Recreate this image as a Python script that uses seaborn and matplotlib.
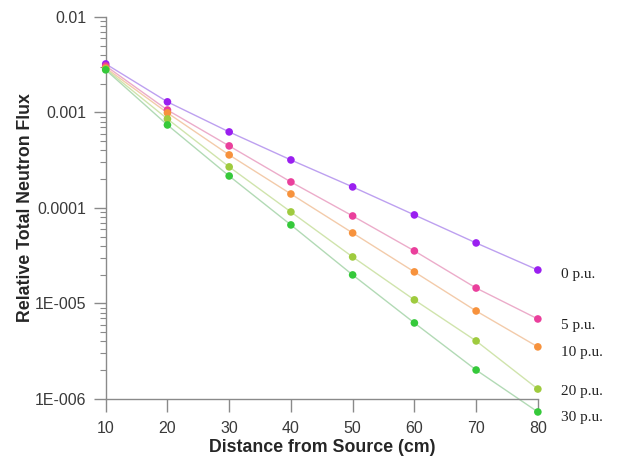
import numpy as np
import pandas as pd
import matplotlib
matplotlib.use('Agg')
import matplotlib.pyplot as plt
import seaborn as sns
from matplotlib.ticker import LogLocator, FixedLocator, FuncFormatter, NullFormatter

# distances (cm) and relative flux for each porosity
distance = [10, 20, 30, 40, 50, 60, 70, 80]
flux_0pu = [3.22e-3, 1.29e-3, 6.25e-4, 3.18e-4, 1.66e-4, 8.45e-5, 4.30e-5, 2.24e-5]
flux_5pu = [3.07e-3, 1.06e-3, 4.46e-4, 1.87e-4, 8.24e-5, 3.55e-5, 1.45e-5, 6.88e-6]
flux_10pu = [2.92e-3, 9.89e-4, 3.59e-4, 1.40e-4, 5.47e-5, 2.14e-5, 8.34e-6, 3.51e-6]
flux_20pu = [2.85e-3, 8.55e-4, 2.69e-4, 9.08e-5, 3.07e-5, 1.09e-5, 4.05e-6, 1.27e-6]
flux_30pu = [2.79e-3, 7.39e-4, 2.16e-4, 6.64e-5, 1.99e-5, 6.25e-6, 2.01e-6, 7.31e-7]
series_labels = ["0 p.u.", "5 p.u.", "10 p.u.", "20 p.u.", "30 p.u."]

marker_colors = ["#9a1ff0", "#ea3f9c", "#f7923c", "#9fcb3e", "#35c93a"]
line_colors = ["#bda0f0", "#ecacca", "#f3cbaa", "#d0e4ac", "#b2dab5"]
label_dy = [-3, -5, -4, -2, -4]  # vertical nudge (points) for end labels

all_flux = [flux_0pu, flux_5pu, flux_10pu, flux_20pu, flux_30pu]
df = pd.DataFrame({
    "distance": distance * len(series_labels),
    "flux": np.concatenate(all_flux),
    "series": np.repeat(series_labels, len(distance)),
})

sns.set_style("white")
plt.rcParams['font.family'] = ['Liberation Sans', 'DejaVu Sans']

fig = plt.figure(figsize=(6.2, 4.57), dpi=100)
ax = fig.add_axes([0.1705, 0.127, 0.697, 0.836])

sns.lineplot(data=df, x="distance", y="flux", hue="series",
             palette=line_colors, linewidth=1.0, legend=False, ax=ax, clip_on=False)
sns.scatterplot(data=df, x="distance", y="flux", hue="series",
                palette=marker_colors, s=30, edgecolor="none", legend=False,
                ax=ax, clip_on=False, zorder=5)

ax.set_yscale("log")
ax.set_xlim(10, 80)
ax.set_ylim(1e-6, 1e-2)

yticks = [1e-6, 1e-5, 1e-4, 1e-3, 1e-2]
ylabels = {1e-6: "1E-006", 1e-5: "1E-005", 1e-4: "0.0001", 1e-3: "0.001", 1e-2: "0.01"}
ax.yaxis.set_major_locator(FixedLocator(yticks))
ax.yaxis.set_major_formatter(FuncFormatter(
    lambda v, p: min(ylabels.items(), key=lambda kv: abs(np.log10(kv[0]) - np.log10(v)))[1]))
ax.yaxis.set_minor_locator(LogLocator(base=10, subs=np.arange(2, 10), numticks=20))
ax.yaxis.set_minor_formatter(NullFormatter())
ax.set_xticks(distance)

for sp in ["top", "right"]:
    ax.spines[sp].set_visible(False)
for sp in ["left", "bottom"]:
    ax.spines[sp].set_color("#8a8a8a")
    ax.spines[sp].set_linewidth(1.0)

ax.tick_params(axis="y", which="major", direction="out", length=9, width=1,
               color="#8a8a8a", labelsize=11.5, labelcolor="#3a3a3a", pad=5, left=True)
ax.tick_params(axis="y", which="minor", direction="out", length=4.5, width=0.8,
               color="#8a8a8a", left=True)
ax.tick_params(axis="x", which="major", direction="out", length=9, width=1,
               color="#8a8a8a", labelsize=11.5, labelcolor="#3a3a3a", pad=7, bottom=True)

ax.set_xlabel("Distance from Source (cm)", fontsize=12.8, fontweight="bold", labelpad=2)
ax.set_ylabel("Relative Total Neutron Flux", fontsize=12.8, fontweight="bold", labelpad=0.5)

for lab, vals, dy in zip(series_labels, all_flux, label_dy):
    ax.annotate(lab, xy=(distance[-1], vals[-1]), xytext=(17, dy),
                textcoords="offset points", va="center", ha="left",
                fontsize=11, family="Liberation Serif", color="#222222",
                annotation_clip=False)

fig.savefig("out.png", dpi=100)
